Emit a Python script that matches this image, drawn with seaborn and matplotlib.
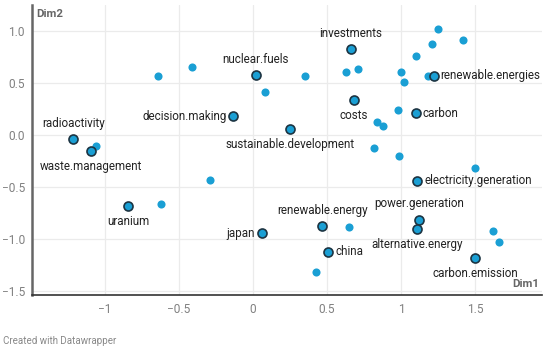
import matplotlib
matplotlib.use("Agg")
import matplotlib.pyplot as plt
import seaborn as sns
import pandas as pd

# labelled terms
terms = ["investments", "nuclear.fuels", "renewable.energies", "costs", "carbon",
         "decision.making", "sustainable.development", "radioactivity",
         "waste.management", "electricity.generation", "uranium", "power.generation",
         "renewable.energy", "alternative.energy", "japan", "china", "carbon.emission"]
term_x = [0.66, 0.02, 1.22, 0.68, 1.10, -0.13, 0.25, -1.21, -1.09, 1.11, -0.84,
          1.12, 0.47, 1.11, 0.06, 0.51, 1.50]
term_y = [0.83, 0.58, 0.57, 0.34, 0.21, 0.18, 0.06, -0.04, -0.15, -0.44, -0.68,
          -0.81, -0.87, -0.90, -0.94, -1.12, -1.18]

# unlabelled points
other_x = [-0.64, -0.41, 0.08, -1.06, 1.25, 1.42, 1.21, 1.10, 0.35, 0.63, 0.71,
           1.00, 1.02, 1.18, 0.98, 0.84, 0.88, 0.82, 0.99, 1.50, -0.29, -0.62,
           0.65, 1.62, 1.66, 0.43]
other_y = [0.57, 0.65, 0.41, -0.10, 1.02, 0.91, 0.87, 0.76, 0.57, 0.61, 0.63,
           0.61, 0.51, 0.57, 0.24, 0.13, 0.09, -0.12, -0.20, -0.32, -0.43, -0.66,
           -0.88, -0.92, -1.03, -1.31]

# where each label sits relative to its dot
placement = {
    "investments": "top", "nuclear.fuels": "top", "renewable.energies": "right",
    "costs": "bottom", "carbon": "right", "decision.making": "left",
    "sustainable.development": "bottom", "radioactivity": "top",
    "waste.management": "bottom", "electricity.generation": "right",
    "uranium": "bottom", "power.generation": "top", "renewable.energy": "top",
    "alternative.energy": "bottom", "japan": "left", "china": "right",
    "carbon.emission": "bottom",
}

sns.set_theme(style="white")
plt.rcParams["font.family"] = ["Roboto", "DejaVu Sans"]

fig = plt.figure(figsize=(5.5, 3.5), dpi=100)
ax = fig.add_axes([0.058, 0.157, 0.927, 0.829])

dot = "#1a9fd4"
sns.scatterplot(x=other_x, y=other_y, ax=ax, color=dot, s=34, linewidth=0, zorder=3)
sns.scatterplot(x=term_x, y=term_y, ax=ax, color=dot, s=42, edgecolor="#1c3442",
                linewidth=1.2, zorder=4)

offs = {"top": (0, 6.5, "center", "bottom"), "bottom": (0, -6.5, "center", "top"),
        "left": (-5, 0, "right", "center"), "right": (5, 0, "left", "center")}
for name, x, y in zip(terms, term_x, term_y):
    dx, dy, ha, va = offs[placement[name]]
    ax.annotate(name, (x, y), xytext=(dx, dy), textcoords="offset points",
                ha=ha, va=va, fontsize=8.4, color="#222222", zorder=5)

ax.set_xlim(-1.49, 1.95)
ax.set_ylim(-1.535, 1.25)
ax.set_xticks([-1, -0.5, 0, 0.5, 1, 1.5])
ax.set_xticklabels(["\u22121", "\u22120.5", "0", "0.5", "1", "1.5"])
ax.set_yticks([-1.5, -1.0, -0.5, 0.0, 0.5, 1.0])
ax.set_yticklabels(["\u22121.5", "\u22121.0", "\u22120.5", "0.0", "0.5", "1.0"])
ax.tick_params(axis="both", length=0, labelsize=8.6, colors="#808080")
ax.tick_params(axis="x", pad=6)
ax.tick_params(axis="y", pad=5)
ax.grid(True, color="#ebebeb", linewidth=0.9, zorder=0)

for s in ["top", "right"]:
    ax.spines[s].set_visible(False)
ax.spines["left"].set_color("#666666")
ax.spines["left"].set_linewidth(1.8)
ax.spines["bottom"].set_color("#333333")
ax.spines["bottom"].set_linewidth(1.2)

ax.text(0.008, 0.985, "Dim2", transform=ax.transAxes, ha="left", va="top",
        fontsize=8.2, fontweight="bold", color="#666666")
ax.text(0.995, 0.02, "Dim1", transform=ax.transAxes, ha="right", va="bottom",
        fontsize=8.2, fontweight="bold", color="#666666")

fig.text(0.005, 0.012, "Created with Datawrapper", fontsize=7, color="#888888",
         ha="left", va="bottom")

fig.savefig("out.png", dpi=100, facecolor="white")
